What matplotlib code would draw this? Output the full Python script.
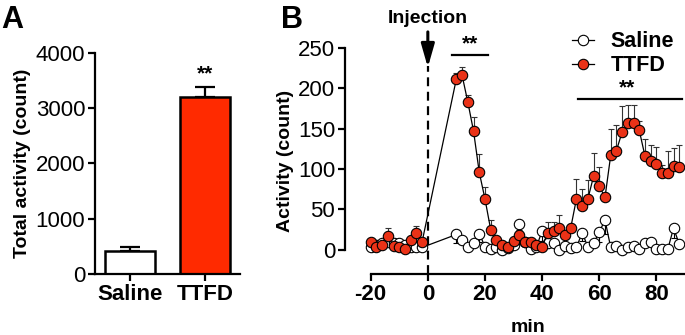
import numpy as np
import matplotlib
matplotlib.use('Agg')
import matplotlib.pyplot as plt

plt.rcParams['font.family'] = ['Liberation Sans', 'DejaVu Sans']
plt.rcParams['axes.unicode_minus'] = False

RED_BAR = '#ff2a00'
RED_DOT = '#ea3217'

# panel A: total activity
groups = ['Saline', 'TTFD']
total_mean = [420, 3200]
total_sem = [70, 180]

# panel B: activity over time (2-min bins)
t_pre = list(range(-20, 0, 2))
t_post = list(range(10, 90, 2))
minutes = t_pre + t_post

saline_mean = [3, 6, 9, 10, 8, 9, 6, 4, 3, 3,
               19, 12, 3, 8, 20, 4, 1, 4, 0, 2,
               6, 32, 10, 1, 4, 23, 8, 8, 0, 5,
               2, 3, 21, 4, 8, 22, 37, 3, 5, 0,
               4, 5, 1, 8, 10, 1, 1, 1, 27, 7]
saline_sem = [2, 2, 3, 3, 2, 3, 2, 2, 2, 2,
              11, 3, 3, 3, 10, 3, 2, 2, 2, 2,
              3, 15, 3, 2, 3, 12, 3, 3, 2, 3,
              2, 2, 10, 3, 3, 12, 18, 2, 3, 2,
              2, 3, 2, 3, 4, 2, 2, 2, 12, 3]

ttfd_mean = [10, 3, 6, 17, 5, 3, 1, 12, 21, 10,
             212, 216, 183, 147, 96, 63, 25, 12, 6, 3,
             11, 18, 10, 10, 6, 4, 21, 23, 27, 18,
             27, 63, 54, 63, 91, 79, 65, 117, 123, 146,
             157, 157, 148, 116, 110, 106, 95, 95, 104, 103]
ttfd_sem = [3, 2, 3, 10, 3, 2, 2, 4, 9, 3,
            7, 11, 9, 18, 23, 15, 12, 4, 3, 2,
            3, 6, 4, 3, 3, 3, 14, 11, 16, 6,
            5, 25, 21, 23, 29, 24, 5, 33, 32, 32,
            22, 22, 12, 21, 20, 21, 10, 27, 22, 27]


def style_axis(ax):
    for side in ['top', 'right']:
        ax.spines[side].set_visible(False)
    for side in ['left', 'bottom']:
        ax.spines[side].set_linewidth(1.6)
    ax.tick_params(width=1.6, length=5, direction='out', labelsize=16, pad=2)


fig = plt.figure(figsize=(6.85, 3.35), dpi=100)

# ---- A ----
axA = fig.add_axes([0.1387, 0.182, 0.2117, 0.6606])
style_axis(axA)
xpos = np.arange(len(groups))
axA.bar(xpos, total_mean, width=0.66, color=['white', RED_BAR],
        edgecolor='black', linewidth=1.8, zorder=2)
axA.errorbar(xpos, total_mean, yerr=[np.zeros(2), total_sem], fmt='none',
             ecolor='black', elinewidth=1.6, capsize=7, capthick=1.6, zorder=1)
axA.set_xlim(-0.47, 1.47)
axA.set_ylim(0, 4000)
axA.set_yticks([0, 1000, 2000, 3000, 4000])
axA.set_xticks(xpos)
axA.set_xticklabels(groups, fontweight='bold')
axA.set_ylabel('Total activity (count)', fontsize=14, fontweight='bold', labelpad=3)
axA.text(1, total_mean[1] + total_sem[1] + 60, '**', ha='center', va='bottom',
         fontsize=15, fontweight='bold')
fig.text(0.002, 0.985, 'A', fontsize=22, fontweight='bold', va='top')

# ---- B ----
axB = fig.add_axes([0.5036, 0.182, 0.4964, 0.6746])
style_axis(axB)
axB.spines['left'].set_bounds(0, 250)
axB.spines['bottom'].set_bounds(-20, 90)
axB.set_xlim(-29, 90)
axB.set_ylim(-30, 250)
axB.set_yticks([0, 50, 100, 150, 200, 250])
axB.set_xticks([-20, 0, 20, 40, 60, 80])
for lab in axB.get_xticklabels():
    lab.set_fontweight('bold')

axB.errorbar(minutes, saline_mean, yerr=[saline_sem, np.zeros(len(minutes))],
             fmt='none', ecolor='black', elinewidth=0.8, capsize=2, capthick=0.8, zorder=2)
axB.plot(minutes, saline_mean, color='black', lw=0.9, marker='o', ms=7.5,
         mfc='white', mec='black', mew=0.8, zorder=3, label='Saline')
axB.errorbar(minutes, ttfd_mean, yerr=[np.zeros(len(minutes)), ttfd_sem],
             fmt='none', ecolor='#333333', elinewidth=0.8, capsize=2, capthick=0.8, zorder=4)
axB.plot(minutes, ttfd_mean, color='black', lw=0.9, marker='o', ms=7.5,
         mfc=RED_DOT, mec='black', mew=0.8, zorder=5, label='TTFD')

# injection marker
axB.plot([0, 0], [-30, 228], color='black', lw=1.6, ls=(0, (4, 2.5)), zorder=1, clip_on=False)
axB.annotate('', xy=(0, 226), xytext=(0, 270),
             arrowprops=dict(arrowstyle='-|>,head_width=0.4,head_length=1.4',
                             color='black', lw=2.2, shrinkA=0, shrinkB=0),
             annotation_clip=False)
axB.text(0, 286, 'Injection', ha='center', va='center', fontsize=14,
         fontweight='bold', clip_on=False)

# significance bars
axB.plot([8.5, 21], [241, 241], color='black', lw=1.6, clip_on=False)
axB.text(14.8, 243, '**', ha='center', va='bottom', fontsize=15, fontweight='bold')
axB.plot([52.6, 88.8], [186.5, 186.5], color='black', lw=1.6, clip_on=False)
axB.text(69.7, 188.5, '**', ha='center', va='bottom', fontsize=15, fontweight='bold')

axB.set_xlabel('min', fontsize=14, fontweight='bold')
axB.xaxis.set_label_coords((35 + 29) / 119, -0.2)
axB.set_ylabel('Activity (count)', fontsize=14, fontweight='bold', labelpad=3)

leg = axB.legend(loc='upper left', bbox_to_anchor=(0.668, 1.075), frameon=False,
                 borderaxespad=0, borderpad=0,
                 handlelength=1.0, handletextpad=0.8, labelspacing=0.15,
                 prop={'weight': 'bold', 'size': 15.5})

fig.text(0.41, 0.985, 'B', fontsize=22, fontweight='bold', va='top')

fig.savefig('out.png', dpi=100)
